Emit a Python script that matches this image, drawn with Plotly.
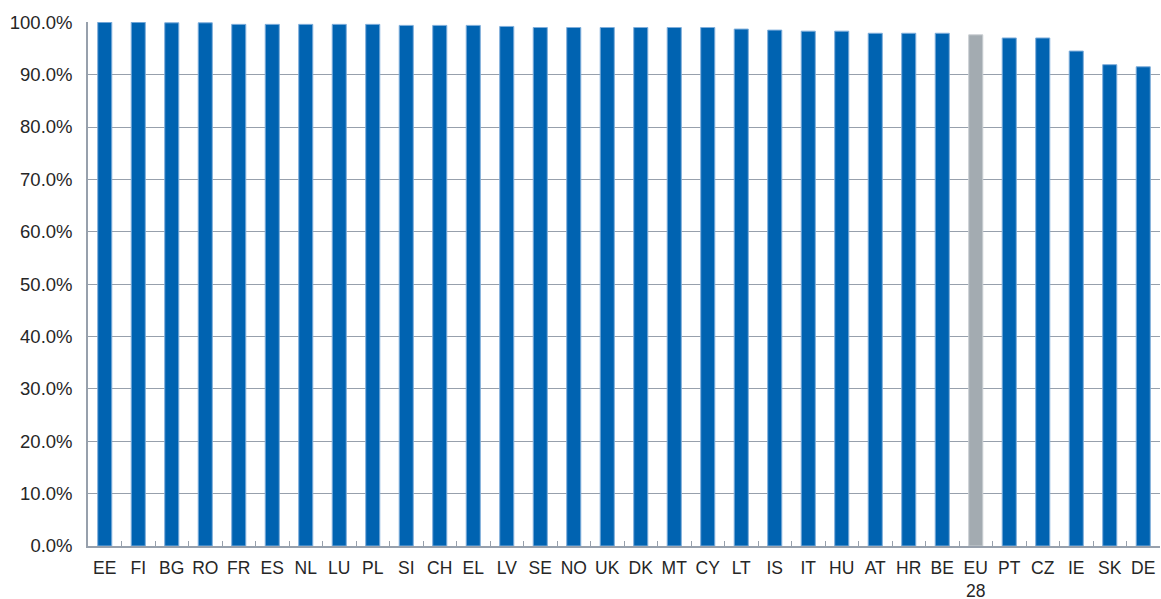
import plotly.graph_objects as go

countries = ["EE", "FI", "BG", "RO", "FR", "ES", "NL", "LU", "PL", "SI", "CH",
             "EL", "LV", "SE", "NO", "UK", "DK", "MT", "CY", "LT", "IS", "IT",
             "HU", "AT", "HR", "BE", "EU<br>28", "PT", "CZ", "IE", "SK", "DE"]
shares = [100.0, 100.0, 99.9, 99.9, 99.6, 99.6, 99.6, 99.6, 99.6, 99.4, 99.4,
          99.4, 99.2, 99.0, 99.0, 99.0, 99.0, 99.0, 99.0, 98.7, 98.5, 98.3,
          98.3, 97.9, 97.9, 97.9, 97.6, 97.0, 97.0, 94.5, 91.9, 91.5]
y_ticks = [0, 10, 20, 30, 40, 50, 60, 70, 80, 90, 100]

BLUE = "#0063B1"
GREY = "#A3ABB1"
fill = [GREY if c.startswith("EU") else BLUE for c in countries]
edge = ["#C9CED2" if c.startswith("EU") else "#7FAEDB" for c in countries]

fig = go.Figure(go.Bar(
    x=countries,
    y=shares,
    width=0.42,
    marker=dict(color=fill, line=dict(color=edge, width=1)),
    hoverinfo="x+y",
))

axis_grey = "#97A0AC"
font = dict(family="Liberation Sans, Arial, sans-serif", size=17, color="#262626")

fig.update_layout(
    width=1161,
    height=599,
    margin=dict(l=88, r=1, t=22, b=53),
    paper_bgcolor="white",
    plot_bgcolor="white",
    showlegend=False,
    bargap=0.58,
    font=font,
    xaxis=dict(
        type="category",
        automargin=False,
        showline=True,
        linecolor=axis_grey,
        linewidth=1.5,
        showgrid=False,
        ticks="inside",
        tickson="boundaries",
        ticklen=5,
        tickcolor=axis_grey,
        tickwidth=1,
        tickangle=0,
        ticklabelstandoff=5,
        tickfont=dict(size=17.5, color="#262626"),
        fixedrange=True,
    ),
    yaxis=dict(
        range=[0, 100.05],
        automargin=False,
        tickvals=y_ticks,
        ticktext=[f"{v:.1f}%" for v in y_ticks],
        showline=True,
        linecolor=axis_grey,
        linewidth=1.5,
        showgrid=True,
        gridcolor=axis_grey,
        gridwidth=1,
        zeroline=False,
        ticks="",
        ticklabelstandoff=10,
        tickfont=dict(size=18.5, color="#262626"),
        fixedrange=True,
    ),
)

fig.write_html("out.html")
